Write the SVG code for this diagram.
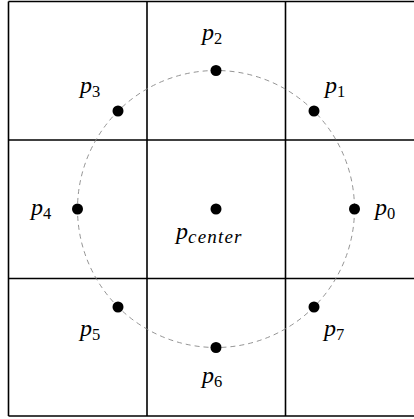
<svg xmlns="http://www.w3.org/2000/svg" width="414" height="419" viewBox="0 0 414 419">
<style>
.grid{stroke:#000;stroke-width:1.6;fill:none}
.circ{stroke:#888;stroke-width:0.9;fill:none;stroke-dasharray:5 4}
.dot{fill:#000}
.lbl{font-family:"Liberation Serif",serif;font-style:italic;font-size:24px;fill:#000}
.sub{font-style:normal;font-size:16.5px}
.subi{font-style:italic;font-size:19px;letter-spacing:1.2px}
</style>
<rect width="414" height="419" fill="#fff"/>
<g id="grid">
<line class="grid" x1="8.5" y1="1.5" x2="414" y2="1.5"/>
<line class="grid" x1="8.5" y1="140" x2="414" y2="140"/>
<line class="grid" x1="8.5" y1="278.5" x2="414" y2="278.5"/>
<line class="grid" x1="8.5" y1="416" x2="414" y2="416"/>
<line class="grid" x1="8.5" y1="1.5" x2="8.5" y2="416"/>
<line class="grid" x1="147" y1="1.5" x2="147" y2="416"/>
<line class="grid" x1="285.5" y1="1.5" x2="285.5" y2="416"/>
</g>
<g id="connectors">
<circle class="circ" cx="216" cy="209" r="138.5"/>
</g>
<g id="p0"><circle class="dot" cx="354.5" cy="209" r="5.5"/><text class="lbl" x="375" y="215">p<tspan class="sub" dy="3.5">0</tspan></text></g>
<g id="p1"><circle class="dot" cx="314" cy="111" r="5.5"/><text class="lbl" x="325" y="93">p<tspan class="sub" dy="3.5">1</tspan></text></g>
<g id="p2"><circle class="dot" cx="216" cy="70.5" r="5.5"/><text class="lbl" x="202" y="40">p<tspan class="sub" dy="3.5">2</tspan></text></g>
<g id="p3"><circle class="dot" cx="118" cy="111" r="5.5"/><text class="lbl" x="80" y="93">p<tspan class="sub" dy="3.5">3</tspan></text></g>
<g id="p4"><circle class="dot" cx="77.5" cy="209" r="5.5"/><text class="lbl" x="31" y="215">p<tspan class="sub" dy="3.5">4</tspan></text></g>
<g id="p5"><circle class="dot" cx="118" cy="307" r="5.5"/><text class="lbl" x="80" y="336">p<tspan class="sub" dy="3.5">5</tspan></text></g>
<g id="p6"><circle class="dot" cx="216" cy="347.5" r="5.5"/><text class="lbl" x="202" y="383">p<tspan class="sub" dy="3.5">6</tspan></text></g>
<g id="p7"><circle class="dot" cx="314" cy="307" r="5.5"/><text class="lbl" x="324" y="336">p<tspan class="sub" dy="3.5">7</tspan></text></g>
<g id="pcenter"><circle class="dot" cx="216" cy="209" r="5.5"/><text class="lbl" x="176" y="239">p<tspan class="subi" dy="3.5">center</tspan></text></g>
</svg>
